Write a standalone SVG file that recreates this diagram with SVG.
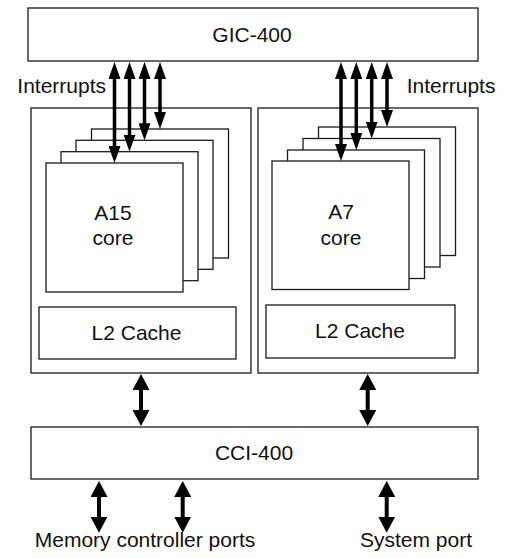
<svg xmlns="http://www.w3.org/2000/svg" width="510" height="558" viewBox="0 0 510 558">
<style>
.box{fill:#fff;stroke:#1a1a1a;stroke-width:1.3}
.lbl{font-family:"Liberation Sans",Arial,sans-serif;font-size:21px;fill:#111}
.c{text-anchor:middle}
.irq{stroke:#000;stroke-width:3.5;fill:none;marker-start:url(#hs);marker-end:url(#hs)}
.bus{stroke:#000;stroke-width:4;fill:none;marker-start:url(#hb);marker-end:url(#hb)}
</style>
<defs>
<marker id="hs" viewBox="0 0 17 12" refX="5" refY="6" markerWidth="17" markerHeight="12" markerUnits="userSpaceOnUse" orient="auto-start-reverse"><path d="M0,0 L17,6 L0,12 z" fill="#000"/></marker>
<marker id="hb" viewBox="0 0 16 17" refX="5" refY="8.5" markerWidth="16" markerHeight="17" markerUnits="userSpaceOnUse" orient="auto-start-reverse"><path d="M0,0 L16,8.5 L0,17 z" fill="#000"/></marker>
</defs>
<g id="gic"><rect class="box" x="28" y="8" width="450" height="53"/><text class="lbl c" x="252" y="41.5">GIC-400</text></g>
<g id="a15-cluster">
<rect class="box" x="31" y="108" width="220" height="265"/>
<rect class="box" x="91.5" y="129" width="137" height="129"/>
<rect class="box" x="76" y="140.3" width="137" height="129"/>
<rect class="box" x="61" y="151.7" width="137" height="129"/>
<rect class="box" x="46" y="163" width="137" height="129"/>
<text class="lbl c" x="113" y="220">A15</text><text class="lbl c" x="113" y="245">core</text>
<rect class="box" x="39" y="307" width="197" height="52"/>
<text class="lbl c" x="136.5" y="339.5">L2 Cache</text>
</g>
<g id="a7-cluster">
<rect class="box" x="258" y="108" width="220" height="265"/>
<rect class="box" x="318.5" y="127" width="137" height="128.5"/>
<rect class="box" x="303" y="138.5" width="137" height="128.5"/>
<rect class="box" x="287.5" y="150" width="137" height="128.5"/>
<rect class="box" x="272" y="161" width="137" height="128.5"/>
<text class="lbl c" x="341" y="219">A7</text><text class="lbl c" x="341" y="244.5">core</text>
<rect class="box" x="266" y="305" width="189" height="53"/>
<text class="lbl c" x="360" y="338">L2 Cache</text>
</g>
<g id="cci"><rect class="box" x="31" y="427" width="447" height="52"/><text class="lbl c" x="254" y="460">CCI-400</text></g>
<g id="connectors">
<line class="irq" x1="114.5" y1="74" x2="114.5" y2="151"/>
<line class="irq" x1="129.5" y1="74" x2="129.5" y2="139.7"/>
<line class="irq" x1="144.5" y1="74" x2="144.5" y2="128.3"/>
<line class="irq" x1="160" y1="74" x2="160" y2="117"/>
<line class="irq" x1="341" y1="74" x2="341" y2="149"/>
<line class="irq" x1="356.3" y1="74" x2="356.3" y2="138"/>
<line class="irq" x1="371.7" y1="74" x2="371.7" y2="126.5"/>
<line class="irq" x1="387" y1="74" x2="387" y2="115"/>
<line class="bus" x1="141" y1="385" x2="141" y2="415"/>
<line class="bus" x1="367.7" y1="385" x2="367.7" y2="415"/>
<line class="bus" x1="99" y1="492" x2="99" y2="521.7"/>
<line class="bus" x1="182.7" y1="492" x2="182.7" y2="521.7"/>
<line class="bus" x1="386.7" y1="492" x2="386.7" y2="521.7"/>
</g>
<g id="labels">
<text class="lbl" x="17.3" y="93">Interrupts</text>
<text class="lbl" x="406.7" y="92.5">Interrupts</text>
<text class="lbl c" x="145" y="547">Memory controller ports</text>
<text class="lbl c" x="416" y="547">System port</text>
</g>
</svg>
